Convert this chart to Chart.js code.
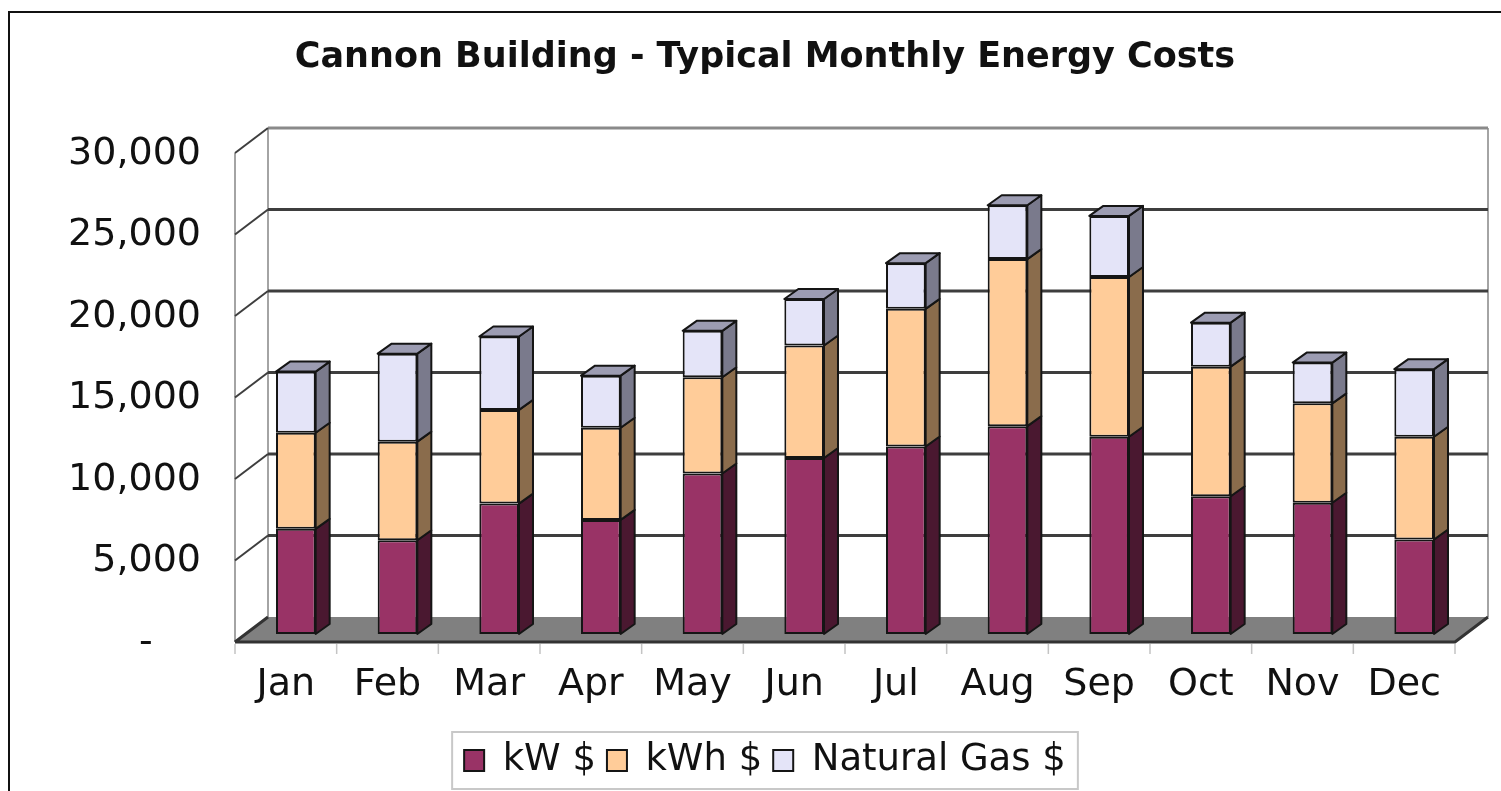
<!DOCTYPE html>
<html>
<head>
<meta charset="utf-8">
<title>Cannon Building - Typical Monthly Energy Costs</title>
<script src="https://cdn.jsdelivr.net/npm/chart.js@4.4.1/dist/chart.umd.min.js"></script>
<style>
  html, body { margin: 0; padding: 0; background: #fff; overflow: hidden; }
  #frame { position: absolute; left: 8px; top: 11px; width: 1600px; height: 900px;
           border-left: 2px solid #111; border-top: 2px solid #111; }
  #wrap { position: absolute; left: 0; top: 0; width: 1501px; height: 791px; }
</style>
</head>
<body>
<div id="frame"></div>
<div id="wrap"><canvas id="chart"></canvas></div>
<script>
// data (dollars per month)
const months = ["Jan", "Feb", "Mar", "Apr", "May", "Jun", "Jul", "Aug", "Sep", "Oct", "Nov", "Dec"];
const kwCost  = [6450, 5750, 8000, 7000, 9850, 10800, 11500, 12750, 12100, 8450, 8050, 5800];
const kwhCost = [5900, 6050, 5750, 5650, 5900, 6900, 8450, 10250, 9800, 7950, 6100, 6300];
const gasCost = [3750, 5400, 4500, 3200, 2850, 2850, 2800, 3300, 3750, 2700, 2500, 4150];
const yTicks  = [0, 5000, 10000, 15000, 20000, 25000, 30000];

const FONT = "'DejaVu Sans', Verdana, sans-serif";

// fake 3D: offsets from the bar plane (where chart.js draws) to front / back planes
const FRONT = { dx: -10, dy: 8 };
const BACK = { dx: 23, dy: -17 };
const BAR_DX = 14, BAR_DY = -10;
const sideColors = ["#4a1830", "#8a6c4c", "#7a7a8c"];
const topColor = "#9c9cb2";

function poly(ctx, pts) {
  ctx.beginPath();
  ctx.moveTo(pts[0][0], pts[0][1]);
  for (let i = 1; i < pts.length; i++) ctx.lineTo(pts[i][0], pts[i][1]);
  ctx.closePath();
}

const box3d = {
  id: "box3d",
  beforeDatasetsDraw(chart) {
    const { ctx, chartArea: a, scales: { y } } = chart;
    const fl = a.left + FRONT.dx, fr = a.right + FRONT.dx, fb = a.bottom + FRONT.dy;
    const bl = a.left + BACK.dx, br = a.right + BACK.dx, bb = a.bottom + BACK.dy;
    const topB = y.getPixelForValue(30000) + BACK.dy;
    const topF = y.getPixelForValue(30000) + FRONT.dy;
    ctx.save();

    // walls edges
    ctx.strokeStyle = "#a4a4a4";
    ctx.lineWidth = 2;
    ctx.beginPath();
    ctx.moveTo(fl, fb); ctx.lineTo(fl, topF);
    ctx.moveTo(bl, bb); ctx.lineTo(bl, topB);
    ctx.moveTo(br, bb); ctx.lineTo(br, topB);
    ctx.stroke();

    // gridlines on back wall + side wall
    yTicks.forEach(v => {
      if (v === 0) return;
      const p = y.getPixelForValue(v);
      ctx.strokeStyle = v === 30000 ? "#8a8a8a" : "#3e3e3e";
      ctx.lineWidth = 3;
      ctx.beginPath();
      ctx.moveTo(bl, p + BACK.dy); ctx.lineTo(br, p + BACK.dy);
      ctx.stroke();
      ctx.strokeStyle = "#3e3e3e";
      ctx.lineWidth = 2;
      ctx.beginPath();
      ctx.moveTo(fl, p + FRONT.dy); ctx.lineTo(bl, p + BACK.dy);
      ctx.stroke();
    });

    // floor
    ctx.fillStyle = "#808080";
    poly(ctx, [[fl, fb], [fr, fb], [br, bb], [bl, bb]]);
    ctx.fill();
    ctx.strokeStyle = "#333";
    ctx.lineWidth = 3;
    ctx.beginPath();
    ctx.moveTo(fl, fb); ctx.lineTo(fr, fb); ctx.lineTo(br, bb);
    ctx.moveTo(fl, fb); ctx.lineTo(bl, bb);
    ctx.stroke();

    // category tick marks under the floor
    ctx.strokeStyle = "#c4c4c4";
    ctx.lineWidth = 1.5;
    ctx.beginPath();
    for (let i = 0; i <= months.length; i++) {
      const xx = fl + i * (fr - fl) / months.length;
      ctx.moveTo(xx, fb + 2); ctx.lineTo(xx, fb + 12);
    }
    ctx.stroke();
    ctx.restore();
  },
  afterDatasetsDraw(chart) {
    const ctx = chart.ctx;
    const metas = chart.getSortedVisibleDatasetMetas();
    ctx.save();
    ctx.strokeStyle = "#151515";
    ctx.lineWidth = 2;
    ctx.lineJoin = "round";
    metas.forEach((meta, di) => {
      meta.data.forEach(bar => {
        const { x, y, base, width } = bar.getProps(["x", "y", "base", "width"], true);
        const l = x - width / 2, r = x + width / 2;
        const top = Math.min(y, base), bot = Math.max(y, base);
        ctx.fillStyle = sideColors[di];
        poly(ctx, [[r, top], [r + BAR_DX, top + BAR_DY], [r + BAR_DX, bot + BAR_DY], [r, bot]]);
        ctx.fill(); ctx.stroke();
        if (di === metas.length - 1) {
          ctx.fillStyle = topColor;
          poly(ctx, [[l, top], [l + BAR_DX, top + BAR_DY], [r + BAR_DX, top + BAR_DY], [r, top]]);
          ctx.fill(); ctx.stroke();
        }
      });
    });
    ctx.restore();
  },
  afterDraw(chart) {
    // light frame round the legend
    const lg = chart.legend;
    if (!lg || !lg.legendHitBoxes || !lg.legendHitBoxes.length) return;
    const boxes = lg.legendHitBoxes;
    const x0 = Math.min(...boxes.map(b => b.left)) - 12;
    const x1 = Math.max(...boxes.map(b => b.left + b.width)) + 12;
    const ctx = chart.ctx;
    ctx.save();
    ctx.strokeStyle = "#c8c8c8";
    ctx.lineWidth = 2;
    ctx.strokeRect(x0, lg.top + 1, x1 - x0, lg.height - 1);
    ctx.restore();
  }
};

const common = {
  borderColor: "#151515",
  borderWidth: 2,
  borderSkipped: false,
  barPercentage: 0.39,
  categoryPercentage: 1.0
};

new Chart(document.getElementById("chart").getContext("2d"), {
  type: "bar",
  data: {
    labels: months,
    datasets: [
      Object.assign({ label: "kW $", data: kwCost, backgroundColor: "#993366" }, common),
      Object.assign({ label: "kWh $", data: kwhCost, backgroundColor: "#ffcc99" }, common),
      Object.assign({ label: "Natural Gas $", data: gasCost, backgroundColor: "#e4e4f8" }, common)
    ]
  },
  options: {
    responsive: true,
    maintainAspectRatio: false,
    animation: false,
    layout: { padding: { left: 65, right: 36, top: 12, bottom: 2 } },
    plugins: {
      title: {
        display: true,
        text: "Cannon Building - Typical Monthly Energy Costs",
        color: "#111",
        font: { family: FONT, size: 35, weight: "bold" },
        padding: { top: 25, bottom: 66 }
      },
      legend: {
        position: "bottom",
        labels: {
          color: "#111",
          boxWidth: 20,
          boxHeight: 21,
          padding: 11,
          font: { family: FONT, size: 37 }
        }
      },
      tooltip: { enabled: false }
    },
    scales: {
      x: {
        stacked: true,
        grid: { display: false },
        border: { display: false },
        ticks: {
          color: "#111",
          font: { family: FONT, size: 38 },
          padding: 20,
          labelOffset: -10,
          maxRotation: 0,
          autoSkip: false
        },
        afterFit(s) { s.height = 97; }
      },
      y: {
        stacked: true,
        min: 0,
        max: 30000,
        grid: { display: false },
        border: { display: false },
        afterBuildTicks(s) { s.ticks = yTicks.map(v => ({ value: v })); },
        ticks: {
          color: "#111",
          font: { family: FONT, size: 38 },
          padding: 36,
          labelOffset: 9,
          callback: v => v === 0 ? "-    " : Number(v).toLocaleString("en-US")
        },
        afterFit(s) { s.width = 180; }
      }
    }
  },
  plugins: [box3d]
});
</script>
</body>
</html>
